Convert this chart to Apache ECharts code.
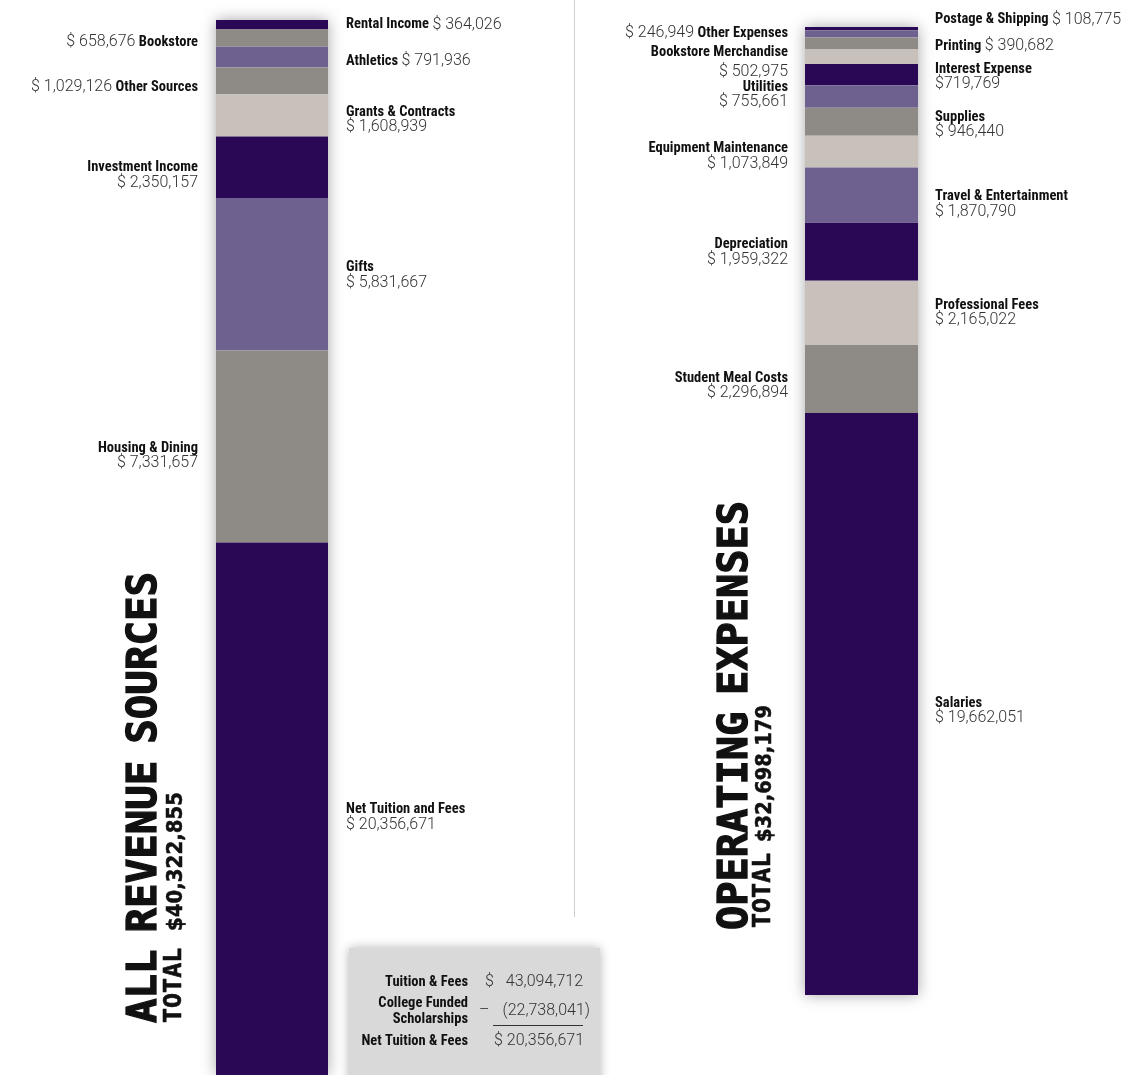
<!DOCTYPE html>
<html><head><meta charset="utf-8">
<script src="https://cdn.jsdelivr.net/npm/echarts@6/dist/echarts.min.js"></script>
<style>html,body{margin:0;padding:0;background:#fff}#c{width:1135px;height:1075px}</style>
</head><body><div id="c"></div>
<script>
// ---- data ----
const revenueNames = ['Rental Income','Bookstore','Athletics','Other Sources','Grants & Contracts','Investment Income','Gifts','Housing & Dining','Net Tuition and Fees'];
const revenueValues = [364026,658676,791936,1029126,1608939,2350157,5831667,7331657,20356671];
const revenueTitle = ['ALL','REVENUE','SOURCES'];
const revenueTotalText = '$40,322,855';
const expenseNames = ['Postage & Shipping','Other Expenses','Printing','Bookstore Merchandise','Interest Expense','Utilities','Supplies','Equipment Maintenance','Travel & Entertainment','Depreciation','Professional Fees','Student Meal Costs','Salaries'];
const expenseValues = [108775,246949,390682,502975,719769,755661,946440,1073849,1870790,1959322,2165022,2296894,19662051];
const expenseTitle = ['OPERATING','EXPENSES'];
const expenseTotalText = '$32,698,179';
const tuitionLabels = ['Tuition & Fees','College Funded\nScholarships','Net Tuition & Fees'];
const tuitionGross = 43094712;
const tuitionScholarships = 22738041;
const tuitionNet = 20356671;

// ---- style ----
const DARK='#2a0856', PURPLE='#6e618f', GRAY='#8e8b86', LIGHT='#c7c0bb';
const revenueColors = [DARK,GRAY,PURPLE,GRAY,LIGHT,DARK,PURPLE,GRAY,DARK];
const expenseColors = [DARK,PURPLE,GRAY,LIGHT,DARK,PURPLE,GRAY,LIGHT,PURPLE,DARK,LIGHT,GRAY,DARK];
const revenueLayout = ['R1','L1','R1','L1','R2','L2','R2','L2','R2'];
const expenseLayout = ['R1','L1','R1','L2','R2','L2','R2','L2','R2','L2','R2','L2','R2'];
const revenueNudge = [0,4,4,6,4,8,1,9.5,8.5];
const expenseNudge = [-9,-1,3,5.5,2,-1.5,3,4.5,9,0.5,-0.5,7,7];
const tightDollar = ['Interest Expense'];
const looseLabels = ['Bookstore Merchandise'];
const NARROW = '"Roboto Condensed","Liberation Sans Narrow","DejaVu Sans Condensed",sans-serif';
const SANS = 'Roboto,"Liberation Sans",Arial,sans-serif';
const MONO = '"DejaVu Sans Mono",monospace';
const HEAVY = '"DejaVu Sans",sans-serif';

const fmt = (n, v) => (tightDollar.includes(n) ? '$' : '$ ') + v.toLocaleString('en-US');
const sum = a => a.reduce((s,v)=>s+v,0);

function richFor(lh) {
  return {
    b:{fontFamily:NARROW, fontWeight:'bold', fontSize:14.5, color:'#111', lineHeight:lh},
    v:{fontFamily:SANS, fontWeight:300, fontSize:16, color:'#333', lineHeight:lh}
  };
}

function makeSeries(names, values, colors, layout, nudge, idx, stack, dist) {
  return names.map((n,i)=>{
    const side = layout[i][0]==='L' ? 'left' : 'right';
    const two = layout[i][1]==='2';
    const val = fmt(n, values[i]);
    let txt;
    if (two) txt = `{b|${n}}\n{v|${val}}`;
    else if (side==='right') txt = `{b|${n}} {v|${val}}`;
    else txt = `{v|${val}} {b|${n}}`;
    return {
      name:n, type:'bar', stack, xAxisIndex:idx, yAxisIndex:idx,
      barWidth:'100%', data:[values[i]],
      itemStyle:{color:colors[i]},
      emphasis:{disabled:true},
      label:{show:true, position:side, distance:dist, offset:[0,nudge[i]],
        fontFamily:SANS, fontSize:14, color:'#333',
        formatter: ()=>txt, rich:richFor(looseLabels.includes(n) ? 19 : 15)}
    };
  });
}

const measureCtx = document.createElement('canvas').getContext('2d');
function vtext(x, y, text, font, stroke, sx) {
  return {type:'text', x, y, rotation:Math.PI/2, scaleX:sx||1,
    style:{text, font, align:'left', verticalAlign:'middle',
      fill:'#111', stroke:'#111', lineWidth:stroke}};
}
function fitText(x, y, text, font, stroke, len) {
  measureCtx.font = font;
  return vtext(x, y, text, font, stroke, len / measureCtx.measureText(text).width);
}
function titleWords(x, y, words, size, targetLen, gap) {
  const font = 'bold '+size+'px '+MONO;
  measureCtx.font = font;
  const widths = words.map(w=>measureCtx.measureText(w).width);
  const sx = (targetLen - gap*(words.length-1)) / sum(widths);
  let cur = y; const els = [];
  words.forEach((w,i)=>{ els.push(vtext(x, cur, w, font, 1.3, sx)); cur -= widths[i]*sx + gap; });
  return els;
}

const chart = echarts.init(document.getElementById('c'));
const gridStyle = {show:true, backgroundColor:'#fff', borderWidth:0, shadowBlur:14, shadowColor:'rgba(0,0,0,0.35)'};
const tStyle = (text, x, y, opt) => ({type:'text', x, y, style:Object.assign({text, verticalAlign:'middle'}, opt)});
const nameFont = 'bold 14.5px '+NARROW, valFont = '300 16px '+SANS;
chart.setOption({
  animation:false,
  grid:[
    Object.assign({left:216, width:112, top:20, height:1058}, gridStyle),
    Object.assign({left:805, width:113, top:27, height:968}, gridStyle)
  ],
  xAxis:[
    {type:'category', data:['rev'], gridIndex:0, show:false},
    {type:'category', data:['exp'], gridIndex:1, show:false}
  ],
  yAxis:[
    {type:'value', gridIndex:0, inverse:true, min:0, max:sum(revenueValues), show:false, splitLine:{show:false}},
    {type:'value', gridIndex:1, inverse:true, min:0, max:sum(expenseValues), show:false, splitLine:{show:false}}
  ],
  series:[
    ...makeSeries(revenueNames, revenueValues, revenueColors, revenueLayout, revenueNudge, 0, 'rev', 18),
    ...makeSeries(expenseNames, expenseValues, expenseColors, expenseLayout, expenseNudge, 1, 'exp', 17)
  ],
  graphic:[
    {type:'line', shape:{x1:574.5, y1:0, x2:574.5, y2:917}, style:{stroke:'#cfcfcf', lineWidth:1}},
    ...titleWords(145.5, 1023, revenueTitle, 40, 451, 17),
    vtext(174, 1023, 'TOTAL', 'bold 25px '+MONO, 0.6),
    fitText(176.5, 931, revenueTotalText, 'bold 21px '+HEAVY, 0.5, 139),
    ...titleWords(736.5, 930, expenseTitle, 40, 429, 17),
    vtext(763, 928, 'TOTAL', 'bold 25px '+MONO, 0.6),
    fitText(765.5, 842, expenseTotalText, 'bold 21px '+HEAVY, 0.5, 137),
    {type:'rect', shape:{x:349, y:948, width:251, height:140}, style:{fill:'#d9d9d9', shadowBlur:10, shadowColor:'rgba(0,0,0,0.3)'}},
    tStyle(tuitionLabels[0], 468, 982, {font:nameFont, align:'right', fill:'#111'}),
    tStyle('$', 485, 982, {font:valFont, align:'left', fill:'#333'}),
    tStyle(tuitionGross.toLocaleString('en-US'), 583, 982, {font:valFont, align:'right', fill:'#333'}),
    tStyle(tuitionLabels[1], 468, 1011, {font:nameFont, lineHeight:16, align:'right', fill:'#111'}),
    tStyle('–', 479, 1011, {font:valFont, align:'left', fill:'#333'}),
    tStyle('('+tuitionScholarships.toLocaleString('en-US')+')', 590, 1011, {font:valFont, align:'right', fill:'#333'}),
    {type:'line', shape:{x1:493, y1:1025.5, x2:583, y2:1025.5}, style:{stroke:'#333', lineWidth:1}},
    tStyle(tuitionLabels[2], 468, 1041, {font:nameFont, align:'right', fill:'#111'}),
    tStyle('$ '+tuitionNet.toLocaleString('en-US'), 584, 1041, {font:valFont, align:'right', fill:'#333'})
  ]
});
</script></body></html>
